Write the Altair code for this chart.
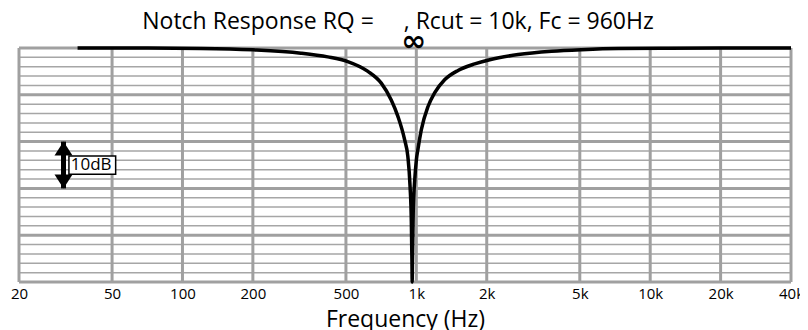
import altair as alt
import pandas as pd

# ---- data ----
freq_hz = [35.6, 60, 120, 200, 321, 418, 509, 621, 708, 781, 834, 891, 920,
           940, 952, 958, 960, 962, 970, 985, 1000, 1017, 1050, 1122, 1197,
           1321, 1508, 1777, 2060, 2726, 3785, 5090, 7311, 12000, 20000, 40000]
gain_db = [0, 0, -0.1, -0.4, -1.1, -1.9, -2.9, -5.0, -7.5, -11.1, -14.6, -19.6, -23.2,
           -29.5, -37, -46, -50, -46, -35, -28, -24, -21.5, -17.5, -12.5, -9.6,
           -6.8, -4.8, -3.4, -2.5, -1.4, -0.7, -0.35, -0.1, -0.05, 0, 0]

tick_values = [20, 50, 100, 200, 500, 1000, 2000, 5000, 10000, 20000, 40000]
tick_labels = ["20", "50", "100", "200", "500", "1k", "2k", "5k", "10k", "20k", "40k"]

major_db = [-50, -40, -30, -20, -10, 0]
minor_db = [-48, -46, -44, -42, -38, -36, -34, -32, -28, -26, -24, -22,
            -18, -16, -14, -12, -8, -6, -4, -2]

# 10 dB scale marker (annotation, in data units)
marker_freq = [31.0]
marker_top_db = [-20]
marker_bottom_db = [-30]
label_box_f = [32.7, 51.8]
label_box_db = [-23.1, -27.0]
label_text = ["10dB"]
label_pos = [33.3, -25.05]

infinity_pos = [975, 1.3]

title_text = "Notch Response RQ =\u00a0\u00a0\u00a0\u00a0\u00a0, Rcut = 10k, Fc = 960Hz"

FONT = "Open Sans"
GRID = "#a0a0a0"

xs = alt.Scale(type="log", domain=[20, 40000], nice=False)
ys = alt.Scale(domain=[-50, 0], nice=False, zero=False)

label_expr = " : ".join(
    f"datum.value == {v} ? '{t}'" for v, t in zip(tick_values, tick_labels)
) + " : ''"

curve = pd.DataFrame({"f": freq_hz, "db": gain_db})

minor = alt.Chart(pd.DataFrame({"db": minor_db})).mark_rule(
    color="#a6a6a6", strokeWidth=1.5
).encode(y=alt.Y("db:Q", scale=ys, axis=None))

major = alt.Chart(pd.DataFrame({"db": major_db})).mark_rule(
    color=GRID, strokeWidth=3
).encode(y=alt.Y("db:Q", scale=ys, axis=None))

vert = alt.Chart(pd.DataFrame({"f": tick_values})).mark_rule(
    color=GRID, strokeWidth=3
).encode(
    x=alt.X(
        "f:Q", scale=xs,
        axis=alt.Axis(
            values=tick_values, labelExpr=label_expr, grid=False, domain=False,
            ticks=False, tickSize=0, labelFontSize=15, labelFont=FONT,
            labelColor="black", labelBaseline="alphabetic", labelPadding=16,
            labelFlush=False, labelOverlap=False,
            title="Frequency (Hz)", titleFont=FONT, titleFontSize=23,
            titleFontWeight="normal", titleColor="black",
            titleBaseline="alphabetic", titleY=44.5,
        ),
    )
)

line = alt.Chart(curve).mark_line(
    color="black", strokeWidth=3.5, interpolate="monotone", strokeJoin="round"
).encode(x=alt.X("f:Q", scale=xs), y=alt.Y("db:Q", scale=ys))

mk = pd.DataFrame({"f": marker_freq, "top": marker_top_db, "bot": marker_bottom_db})
shaft = alt.Chart(mk).mark_rule(color="black", strokeWidth=5).encode(
    x=alt.X("f:Q", scale=xs), y=alt.Y("top:Q", scale=ys), y2="bot:Q"
)
head_up = alt.Chart(mk).mark_point(
    shape="M0,0 L1,1.55 L-1,1.55 Z", size=324, filled=True, color="black", opacity=1
).encode(x=alt.X("f:Q", scale=xs), y=alt.Y("top:Q", scale=ys))
head_dn = alt.Chart(mk).mark_point(
    shape="M0,0 L1,-1.55 L-1,-1.55 Z", size=324, filled=True, color="black", opacity=1
).encode(x=alt.X("f:Q", scale=xs), y=alt.Y("bot:Q", scale=ys))

box = alt.Chart(pd.DataFrame({
    "f1": [label_box_f[0]], "f2": [label_box_f[1]],
    "d1": [label_box_db[0]], "d2": [label_box_db[1]],
})).mark_rect(fill="white", stroke="black", strokeWidth=1.5).encode(
    x=alt.X("f1:Q", scale=xs), x2="f2:Q", y=alt.Y("d1:Q", scale=ys), y2="d2:Q"
)
box_text = alt.Chart(pd.DataFrame({
    "f": [label_pos[0]], "db": [label_pos[1]], "t": label_text
})).mark_text(
    align="left", baseline="middle", font=FONT, fontSize=17, color="black"
).encode(x=alt.X("f:Q", scale=xs), y=alt.Y("db:Q", scale=ys), text="t:N")

inf = alt.Chart(pd.DataFrame({
    "f": [infinity_pos[0]], "db": [infinity_pos[1]], "t": ["\u221e"]
})).mark_text(
    align="center", baseline="middle", font="DejaVu Sans", fontSize=30,
    fontWeight="bold", color="black"
).encode(x=alt.X("f:Q", scale=xs), y=alt.Y("db:Q", scale=ys), text="t:N")

title = alt.Chart(pd.DataFrame({"t": [title_text]})).mark_text(
    align="center", baseline="alphabetic", font=FONT, fontSize=23, color="black"
).encode(x=alt.value(379), y=alt.value(-18.7), text="t:N")

chart = alt.layer(
    minor, major, vert, line, shaft, head_up, head_dn, box, box_text, inf, title
).properties(
    width=772, height=234,
    autosize=alt.AutoSizeParams(type="none"),
    padding={"left": 11, "top": 40, "right": 9, "bottom": 52},
).configure_view(stroke=None)

chart.save("out.html", embed_options={"renderer": "svg", "actions": False})
